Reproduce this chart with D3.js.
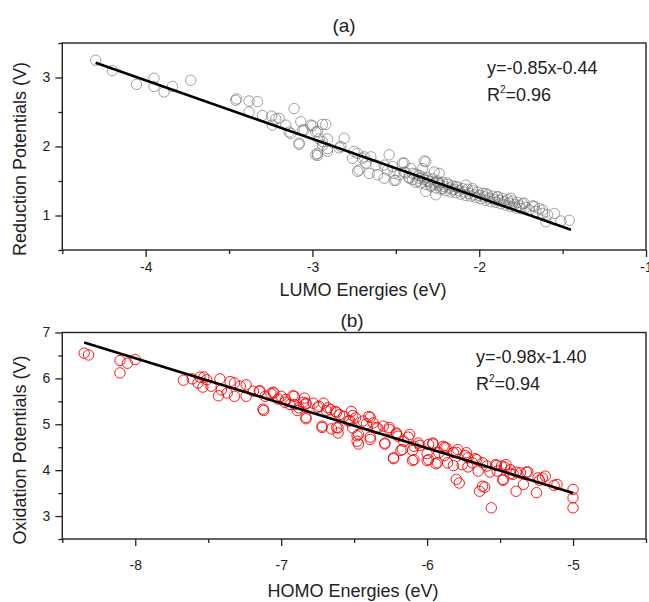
<!DOCTYPE html>
<html><head><meta charset="utf-8">
<script src="https://cdn.jsdelivr.net/npm/d3@7"></script>
<style>
body{margin:0;background:#fff;}
svg{display:block;font-family:"Liberation Sans",Arial,sans-serif;}
</style></head>
<body><svg id="c" width="649" height="602"></svg>
<script>
// ---- Panel (a): LUMO energies vs reduction potentials ----
const lumoX = [-4.30,-4.20,-4.055,-3.95,-3.95,-3.89,-3.84,-3.73,-3.46,-3.455,-3.38,-3.33,-3.38,-3.30,-3.245,-3.22,-3.24,-3.16,-3.11,-3.13,-3.07,-3.05,-3.08,-3.0,-2.97,-2.96,-2.94,-2.92,-2.91,-2.91,-2.97,-2.97,-2.94,-2.91,-2.81,-2.83,
 -3.20,-3.14,-3.06,-3.01,-2.98,-3.08,-2.98,-2.94,-2.84,-2.75,-2.73,-2.76,-2.73,-2.69,-2.68,-2.65,-2.66,-2.62,-2.61,-2.54,-2.57,-2.55,-2.51,-2.50,-2.52,-2.46,-2.48,-2.45,-2.42,-2.40,-2.38,-2.33,-2.34,-2.36,-2.31,-2.27,-2.29,-2.25,-2.22,-2.19,-2.16,-2.14,-2.32,-2.26,
 -2.70,-2.72,-2.57,-2.51,-2.45,-2.32,
 -2.44,-2.42,-2.41,-2.40,-2.38,-2.37,-2.36,-2.35,-2.34,-2.33,-2.32,-2.31,-2.30,-2.29,-2.28,-2.27,-2.26,-2.25,-2.24,-2.23,-2.22,-2.21,-2.20,-2.19,-2.18,-2.17,-2.16,-2.15,-2.14,-2.13,-2.12,-2.11,-2.10,-2.09,-2.08,-2.07,-2.06,-2.05,-2.04,-2.03,-2.02,-2.01,-2.00,-1.99,-1.98,-1.97,-1.96,-1.95,-1.94,-1.93,-1.92,-1.91,-1.90,-1.89,-1.88,-1.87,-1.86,-1.85,-1.84,-1.83,-1.82,-1.81,-1.80,-1.79,-1.78,-1.77,-1.76,-1.75,-1.74,-1.72,-1.70,-1.68,-1.66,-1.64,-1.62,
 -1.46,-1.51,-1.55,-1.59,-1.62,-1.60,-1.67,-1.73,-1.81,-1.89,-1.96,-2.04,-2.08,-2.24,-2.24];
const reductionY = [3.25,3.10,2.90,2.99,2.87,2.79,2.87,2.96,2.67,2.69,2.66,2.65,2.50,2.45,2.44,2.40,2.31,2.31,2.55,2.19,2.36,2.24,2.03,2.30,2.22,2.11,2.32,2.32,2.11,1.93,1.87,1.90,2.07,1.97,2.12,2.00,
 2.41,2.21,2.24,2.31,2.21,2.05,1.88,2.02,1.98,1.93,1.90,1.83,1.64,1.85,1.76,1.85,1.61,1.73,1.59,1.88,1.73,1.66,1.61,1.51,1.71,1.76,1.59,1.63,1.54,1.61,1.48,1.79,1.68,1.54,1.51,1.63,1.44,1.48,1.39,1.47,1.37,1.42,1.35,1.30,
 1.83,1.66,1.54,1.51,1.76,1.78,
 1.62,1.55,1.68,1.52,1.60,1.50,1.58,1.47,1.56,1.52,1.45,1.55,1.49,1.42,1.53,1.47,1.40,1.50,1.44,1.38,1.48,1.42,1.36,1.45,1.40,1.34,1.43,1.38,1.33,1.41,1.36,1.31,1.39,1.34,1.29,1.38,1.32,1.28,1.36,1.30,1.26,1.34,1.29,1.24,1.32,1.27,1.22,1.30,1.25,1.20,1.28,1.23,1.19,1.27,1.22,1.17,1.25,1.20,1.15,1.23,1.18,1.13,1.21,1.16,1.11,1.19,1.14,1.10,1.17,1.12,1.08,1.14,1.06,1.10,1.03,
 0.93,0.92,1.03,1.01,1.08,0.91,1.13,1.18,1.25,1.27,1.32,1.39,1.44,1.61,1.47];
const fitA = {slope:-0.85, intercept:-0.44, x0:-4.30, x1:-1.45};
const xTicksA = [-4,-3,-2,-1], xMinorA = [-4.5,-3.5,-2.5,-1.5];
const yTicksA = [1,2,3], yMinorA = [0.5,1.5,2.5,3.5];

// ---- Panel (b): HOMO energies vs oxidation potentials ----
const homoX = [-8.35,-8.32,-8.105,-8.105,-8.054,-8.0,-7.67,-7.61,-7.557,-7.53,-7.57,-7.537,-7.51,-7.48,-7.42,-7.43,-7.41,-7.37,-7.35,-7.32,-7.32,-7.28,-7.24,-7.24,-7.19,-7.15,-7.125,-7.11,-7.07,-7.05,-7.0,-6.97,-6.94,-6.91,-6.91,-6.88,-6.84,-6.83,-6.83,-6.78,-6.74,-6.72,-6.71,-6.68,-6.66,-6.63,-6.61,-6.61,-6.60,-6.57,-6.54,-6.52,-6.51,-6.49,-6.48,-6.47,-6.44,-6.40,-6.39,-6.37,-6.34,-6.30,-6.29,-6.26,-6.23,-6.21,-6.20,-6.17,-6.16,-6.12,-6.09,-6.09,-6.06,-5.99,-5.99,-5.96,-5.93,-5.92,-5.89,-5.87,-5.86,-5.82,-5.80,-5.79,-5.78,-5.76,-5.73,-5.72,-5.69,-5.66,-5.65,-5.64,-5.62,-5.62,-5.59,-5.56,-5.53,-5.52,-5.49,-5.48,-5.46,-5.43,-5.41,-5.39,-5.36,-5.34,-5.31,-5.25,-5.24,-5.19,-5.11,-5.0,-5.0,-5.0,
 -7.146,-7.12,-7.055,-7.02,-6.975,-6.92,-6.89,-6.85,-6.83,-6.83,-6.75,-6.72,-6.69,-6.655,-6.62,-6.62,-6.53,-6.51,-6.48,-6.47,-6.415,-6.39,-6.39,-6.35,-6.29,-6.26,-6.23,-6.21,-6.18,-6.13,-6.10,-6.10,-6.05,-6.00,-6.00,
 -5.96,-5.94,-5.88,-5.88,-5.82,-5.80,-5.74,-5.72,-5.67,-5.605,-5.57,-5.525,-5.47,-5.48,-5.43,-5.39,-5.32,-5.23,-5.21,-5.13];
const oxidationY = [6.55,6.51,6.39,6.12,6.33,6.41,5.96,5.99,6.03,6.03,5.90,5.81,5.97,5.83,5.99,5.62,5.75,5.68,5.93,5.90,5.61,5.83,5.86,5.61,5.72,5.72,5.33,5.61,5.67,5.68,5.61,5.54,5.43,5.61,5.43,5.36,5.57,5.46,5.15,5.46,5.39,4.96,5.46,5.36,5.32,5.28,4.81,4.92,5.21,5.17,5.07,5.28,4.92,5.14,4.63,4.78,5.07,5.17,4.67,5.03,4.92,4.96,4.59,4.89,4.27,4.81,4.74,4.45,4.63,4.78,4.23,4.52,4.59,4.56,4.23,4.59,4.16,4.38,4.52,4.49,4.16,4.38,3.80,4.45,3.72,4.12,4.38,4.27,4.16,4.23,3.98,3.54,4.16,3.65,4.09,3.18,4.12,3.98,4.09,3.80,4.12,4.01,3.91,3.54,3.94,3.69,3.96,3.51,3.83,3.87,3.69,3.58,3.40,3.18,
 5.73,5.30,5.70,5.55,5.48,5.62,5.30,5.48,5.44,5.12,5.37,4.93,5.30,4.90,5.26,4.93,5.08,5.19,4.75,4.57,5.01,5.15,4.72,4.93,4.57,4.93,4.25,4.79,4.43,4.72,4.21,4.43,4.54,4.36,4.21,
 4.57,4.14,4.50,4.32,4.10,4.39,4.32,4.07,4.25,3.63,3.96,4.10,4.07,3.78,3.92,3.96,3.96,3.78,3.83,3.67];
const fitB = {slope:-0.98, intercept:-1.40, x0:-8.35, x1:-5.0};
const xTicksB = [-8,-7,-6,-5], xMinorB = [-8.5,-7.5,-6.5,-5.5,-4.5];
const yTicksB = [3,4,5,6,7], yMinorB = [2.5,3.5,4.5,5.5,6.5];

const svg = d3.select("#c");
const FONT = '"Liberation Sans",Arial,sans-serif';
const fmt = d => String(d);  // plain hyphen-minus like the original

function panel(cfg){
  const g = svg.append("g");
  const x = d3.scaleLinear().domain(cfg.xd).range([cfg.left, cfg.right]);
  const y = d3.scaleLinear().domain(cfg.yd).range([cfg.bottom, cfg.top]);
  // points
  g.append("g").selectAll("circle").data(cfg.xs.map((v,i)=>[v,cfg.ys[i]])).join("circle")
    .attr("cx",d=>x(d[0])).attr("cy",d=>y(d[1])).attr("r",5.2)
    .attr("fill","none").attr("stroke",cfg.color).attr("stroke-width",1)
    .attr("stroke-opacity",cfg.opacity);
  // fit line
  const f = cfg.fit;
  g.append("line").attr("x1",x(f.x0)).attr("y1",y(f.slope*f.x0+f.intercept))
    .attr("x2",x(f.x1)).attr("y2",y(f.slope*f.x1+f.intercept))
    .attr("stroke","#000").attr("stroke-width",2.6);
  // frame
  g.append("rect").attr("x",cfg.left).attr("y",cfg.top)
    .attr("width",cfg.right-cfg.left).attr("height",cfg.bottom-cfg.top)
    .attr("fill","none").attr("stroke","#222").attr("stroke-width",1.4);
  // axes
  const ax = g.append("g").attr("transform",`translate(0,${cfg.bottom})`)
    .call(d3.axisBottom(x).tickValues(cfg.xt).tickSize(7).tickPadding(cfg.xpad).tickFormat(fmt));
  const axm = g.append("g").attr("transform",`translate(0,${cfg.bottom})`)
    .call(d3.axisBottom(x).tickValues(cfg.xm).tickSize(4).tickFormat(""));
  const ay = g.append("g").attr("transform",`translate(${cfg.left},0)`)
    .call(d3.axisLeft(y).tickValues(cfg.yt).tickSize(7).tickPadding(5).tickFormat(fmt));
  const aym = g.append("g").attr("transform",`translate(${cfg.left},0)`)
    .call(d3.axisLeft(y).tickValues(cfg.ym).tickSize(4).tickFormat(""));
  [ax,axm,ay,aym].forEach(a=>{
    a.select(".domain").remove();
    a.selectAll("line").attr("stroke","#222").attr("stroke-width",1.3);
    a.selectAll("text").attr("font-family",FONT).attr("font-size",14).attr("fill","#222");
  });
  // titles
  g.append("text").attr("x",cfg.titleX).attr("y",cfg.titleY).attr("text-anchor","middle")
    .attr("font-family",FONT).attr("font-size",19).attr("fill","#222").text(cfg.title);
  g.append("text").attr("x",cfg.xlabX).attr("y",cfg.xlabY).attr("text-anchor","middle")
    .attr("font-family",FONT).attr("font-size",18).attr("fill","#222").text(cfg.xlab);
  g.append("text").attr("transform",`translate(${cfg.ylabX},${cfg.ylabY}) rotate(-90)`)
    .attr("text-anchor","middle").attr("font-family",FONT).attr("font-size",18).attr("fill","#222").text(cfg.ylab);
  // equation
  g.append("text").attr("x",cfg.eqX).attr("y",cfg.eqY).attr("font-family",FONT)
    .attr("font-size",18).attr("fill","#222").text(cfg.eq);
  const r = g.append("text").attr("x",cfg.eqX).attr("y",cfg.eqY+27).attr("font-family",FONT)
    .attr("font-size",18).attr("fill","#222");
  r.append("tspan").text("R");
  r.append("tspan").attr("font-size",10).attr("dy",-8).text("2");
  r.append("tspan").attr("dy",8).text("=" + cfg.r2);
}

panel({xs:lumoX, ys:reductionY, color:"#666", opacity:0.6, fit:fitA,
  xd:[-4.5,-1], yd:[0.5,3.5], left:62.3, right:646, top:43, bottom:250,
  xt:xTicksA, xm:xMinorA, yt:yTicksA, ym:yMinorA, xpad:5,
  title:"(a)", titleX:344, titleY:32, xlab:"LUMO Energies (eV)", xlabX:363, xlabY:296,
  ylab:"Reduction Potentials (V)", ylabX:26, ylabY:159,
  eq:"y=-0.85x-0.44", r2:"0.96", eqX:487, eqY:74});

panel({xs:homoX, ys:oxidationY, color:"#ff0000", opacity:0.9, fit:fitB,
  xd:[-8.5,-4.5], yd:[2.5,7], left:62.3, right:646, top:332.5, bottom:539,
  xt:xTicksB, xm:xMinorB, yt:yTicksB, ym:yMinorB, xpad:14,
  title:"(b)", titleX:352, titleY:327, xlab:"HOMO Energies (eV)", xlabX:353, xlabY:597,
  ylab:"Oxidation Potentials (V)", ylabX:26, ylabY:450,
  eq:"y=-0.98x-1.40", r2:"0.94", eqX:476, eqY:363});
</script></body></html>
